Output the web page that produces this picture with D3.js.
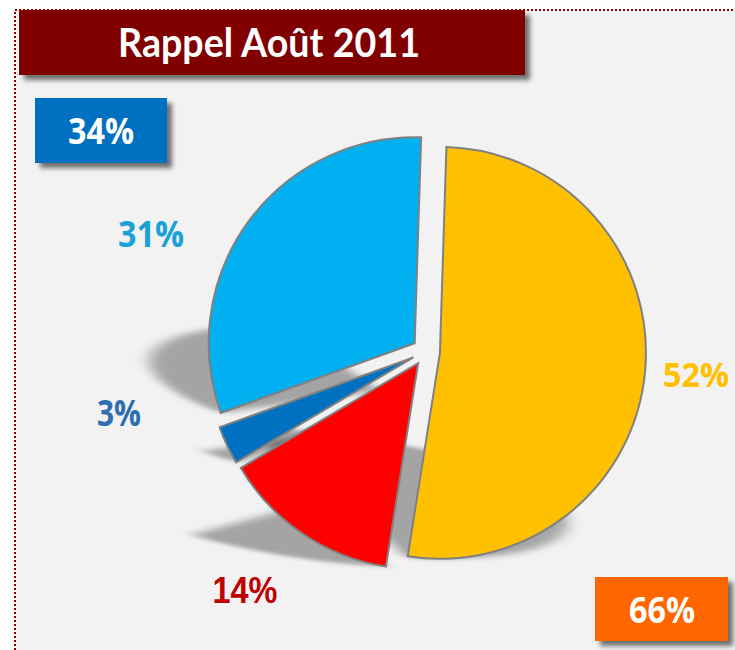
<!DOCTYPE html>
<html>
<head>
<meta charset="utf-8">
<script src="https://cdn.jsdelivr.net/npm/d3@7"></script>
<style>
  html, body { margin: 0; padding: 0; background: #ffffff; }
  svg { display: block; }
</style>
</head>
<body>
<svg id="chart" width="735" height="650"></svg>
<script>
// ---- data ----
const title = "Rappel Août 2011";
const sliceLabels = ["52%", "14%", "3%", "31%"];
const sliceValues = [52, 14, 3, 31];
const summaryLabels = ["34%", "66%"];

// ---- styles ----
const sliceColors = ["#FFC000", "#FF0000", "#0070C0", "#00B0F0"];
const labelColors = ["#FFC000", "#C00000", "#2F6EAF", "#1BA1D6"];
const labelFonts = ["'Open Sans'", "'Liberation Sans'", "'Open Sans'", "'Open Sans'"];
const labelWidths = [66, 65, 44, 66];
const labelSizes = [34, 36, 36, 36];
// label anchor (center x, baseline y) in page pixels
const labelPos = [[696, 387], [245, 603], [119, 426], [151, 247]];

const W = 735, H = 650;
const cx = 426, cy = 351.5, R = 206, explode = 14;
const startDeg = 1.8;

const svg = d3.select("#chart");
const defs = svg.append("defs");

const blur = defs.append("filter").attr("id", "sliceShadow")
  .attr("x", "-40%").attr("y", "-40%").attr("width", "180%").attr("height", "180%");
blur.append("feGaussianBlur").attr("stdDeviation", 7);

const box = defs.append("filter").attr("id", "boxShadow")
  .attr("x", "-20%").attr("y", "-20%").attr("width", "150%").attr("height", "160%");
box.append("feGaussianBlur").attr("in", "SourceAlpha").attr("stdDeviation", 2.5).attr("result", "b");
box.append("feOffset").attr("in", "b").attr("dx", 5).attr("dy", 5).attr("result", "o");
box.append("feComponentTransfer").attr("in", "o").attr("result", "o2")
  .append("feFuncA").attr("type", "linear").attr("slope", 0.55);
const bm = box.append("feMerge");
bm.append("feMergeNode").attr("in", "o2");
bm.append("feMergeNode").attr("in", "SourceGraphic");

// background panel
svg.append("rect").attr("x", 15).attr("y", 10).attr("width", W - 15).attr("height", H - 10)
  .attr("fill", "#F2F2F2");
// dotted border (left and top)
svg.append("path")
  .attr("d", d3.line()([[15, H], [15, 10], [W, 10]]))
  .attr("fill", "none").attr("stroke", "#8B0000").attr("stroke-width", 2)
  .attr("stroke-dasharray", "2,2");

// ---- pie ----
const pie = d3.pie().sort(null).value(d => d)
  .startAngle(startDeg * Math.PI / 180)
  .endAngle(startDeg * Math.PI / 180 + 2 * Math.PI);
const arcs = pie(sliceValues);
const arc = d3.arc().innerRadius(0).outerRadius(R);

function offsetOf(d) {
  const a = (d.startAngle + d.endAngle) / 2;
  return [cx + explode * Math.sin(a), cy - explode * Math.cos(a)];
}

const shadowLayer = svg.append("g");
const sliceLayer = svg.append("g");

const s = 0.32, k = 0.5;
arcs.forEach((d, i) => {
  const [ox, oy] = offsetOf(d);
  const sg = sliceLayer.append("g").attr("transform", `translate(${ox},${oy})`);
  const p = sg.append("path").attr("d", arc(d))
    .attr("fill", sliceColors[i]).attr("stroke", "#808080").attr("stroke-width", 2)
    .attr("stroke-linejoin", "miter");
  const bb = p.node().getBBox();
  const yb = bb.y + bb.height;
  shadowLayer.append("g").attr("transform", `translate(${ox},${oy})`)
    .append("path").attr("d", arc(d))
    .attr("transform", `matrix(1,0,${k},${s},${-k * yb},${(1 - s) * yb})`)
    .attr("fill", "#000").attr("fill-opacity", 0.32)
    .attr("filter", "url(#sliceShadow)");
});

// slice labels
arcs.forEach((d, i) => {
  svg.append("text")
    .attr("x", labelPos[i][0]).attr("y", labelPos[i][1])
    .attr("text-anchor", "middle")
    .attr("font-family", labelFonts[i] + ", sans-serif")
    .attr("font-weight", "bold").attr("font-size", labelSizes[i])
    .attr("textLength", labelWidths[i]).attr("lengthAdjust", "spacingAndGlyphs")
    .attr("fill", labelColors[i])
    .text(sliceLabels[i]);
});

// ---- title box ----
svg.append("rect").attr("x", 19).attr("y", 10).attr("width", 506).attr("height", 65)
  .attr("fill", "#800000").attr("filter", "url(#boxShadow)");
svg.append("text").attr("x", 269).attr("y", 57).attr("text-anchor", "middle")
  .attr("font-family", "Lato, sans-serif").attr("font-weight", "bold").attr("font-size", 40)
  .attr("textLength", 302).attr("lengthAdjust", "spacingAndGlyphs")
  .attr("fill", "#ffffff").text(title);

// ---- summary boxes ----
const boxes = [
  { x: 35, y: 98, w: 132, h: 65, fill: "#0070C0", tx: 101, ty: 144 },
  { x: 595, y: 577, w: 133, h: 64, fill: "#FF6600", tx: 662, ty: 623 }
];
boxes.forEach((b, i) => {
  svg.append("rect").attr("x", b.x).attr("y", b.y).attr("width", b.w).attr("height", b.h)
    .attr("fill", b.fill).attr("filter", "url(#boxShadow)");
  svg.append("text").attr("x", b.tx).attr("y", b.ty).attr("text-anchor", "middle")
    .attr("font-family", "'Open Sans', sans-serif").attr("font-weight", "bold").attr("font-size", 36)
    .attr("textLength", 66).attr("lengthAdjust", "spacingAndGlyphs")
    .attr("fill", "#ffffff").text(summaryLabels[i]);
});
</script>
</body>
</html>
